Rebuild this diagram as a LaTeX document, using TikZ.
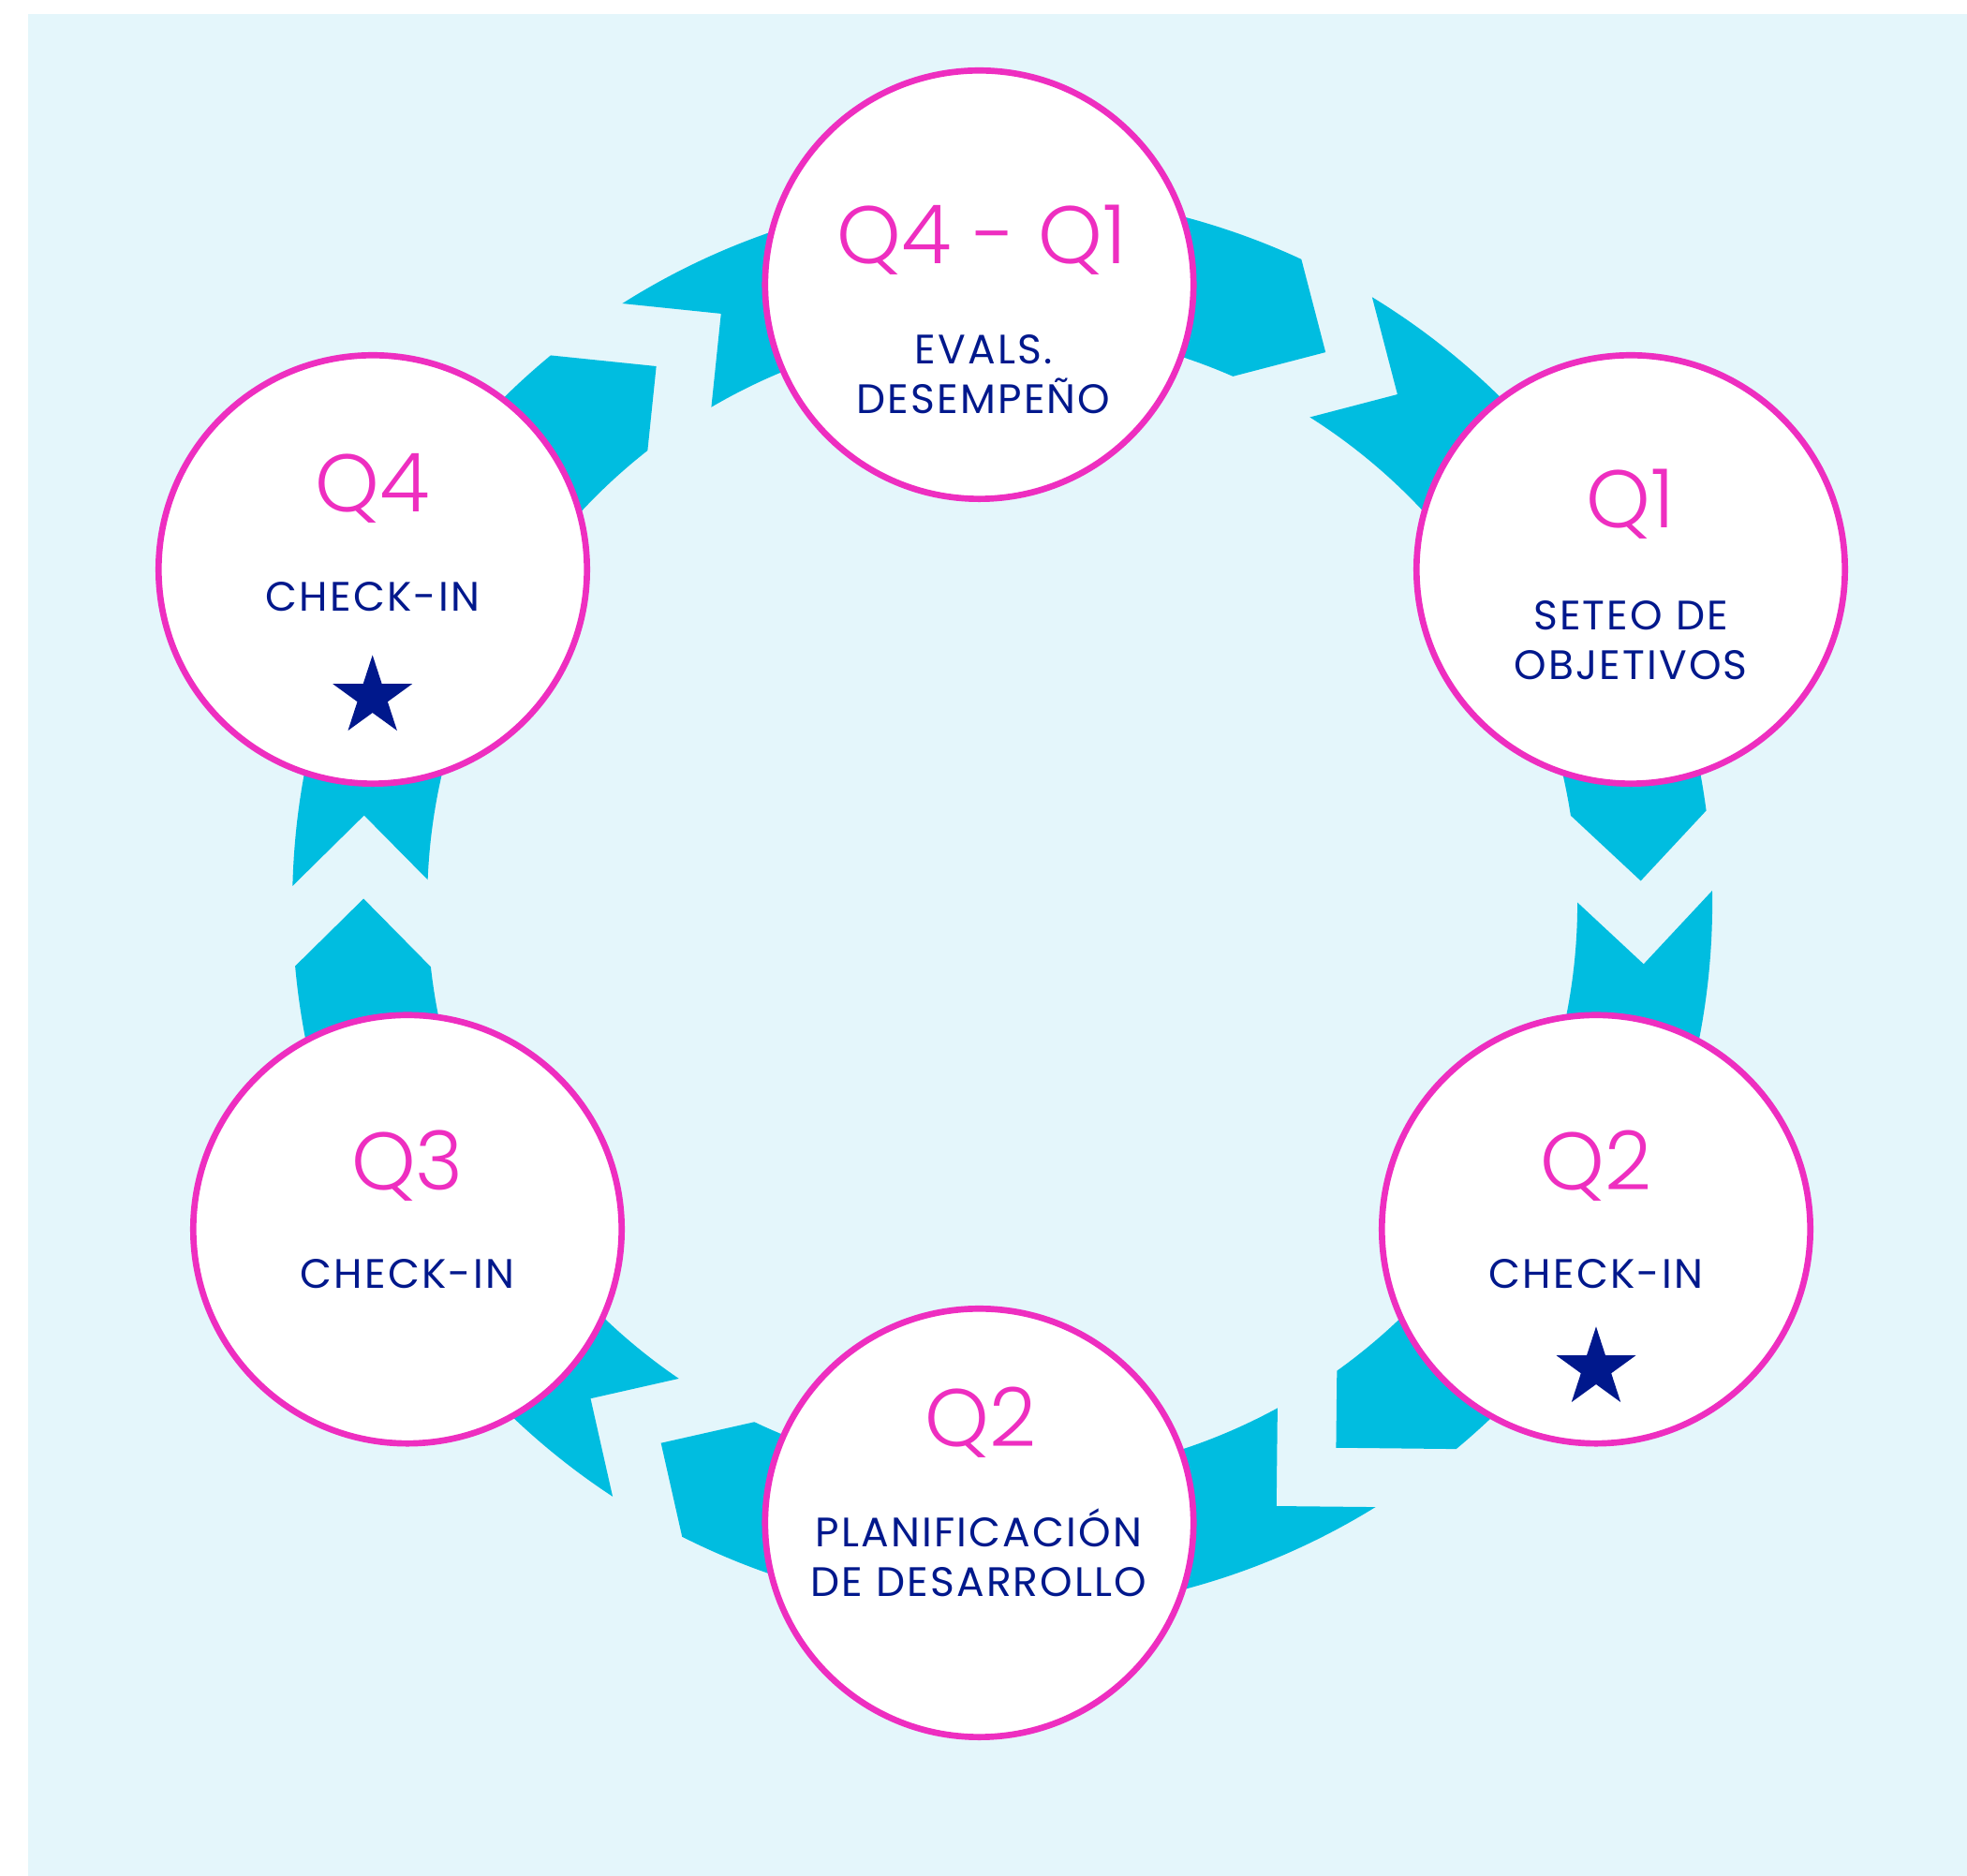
\documentclass[tikz,border=0pt]{standalone}
\usepackage{fontspec}
\setmainfont{Poppins}[LetterSpace=5]
\newfontfamily\qlight{Poppins Light}
\usetikzlibrary{calc,shapes.geometric}

\definecolor{bgblue}{RGB}{228,246,251}
\definecolor{qcyan}{RGB}{0,189,224}
\definecolor{qpink}{RGB}{238,46,192}
\definecolor{qnavy}{RGB}{0,24,140}

\newcommand{\ringout}{7.58}
\newcommand{\ringin}{6.14}

\tikzset{
	phase/.style={circle, draw=qpink, line width=1.9pt, fill=white, minimum size=4.574cm, inner sep=0pt},
	qlabel/.style={anchor=base, text=qpink, font=\qlight\fontsize{24.8pt}{28pt}\selectfont},
	tlabel/.style={anchor=base, text=qnavy, font=\fontsize{12.5pt}{15pt}\selectfont},
	ringarrow/.style={fill=qcyan},
	badge/.style={star, star points=5, star point ratio=2.618, minimum size=0.892cm, inner sep=0pt, fill=qnavy}
}

\begin{document}
\begin{tikzpicture}
	\useasboundingbox (0,0) rectangle (21,20.03);
	\fill[bgblue] (0.30,0) rectangle (21,19.88);
	\coordinate (C) at (10.701,10.387);
	% chevron segments of the ring, clockwise
	% tail gap angle / outer, inner, notch offsets / notch radius / head gap angle / outer, inner offsets
	\foreach \a/\ao/\ai/\an/\nr/\b/\bo/\bi in {
		122.8/-0.44/-2.40/-7.29/6.974/59.6/5.49/6.76,
		59.6/-0.99/-1.93/-7.43/6.878/2/5.49/6.76,
		2/-0.99/-1.93/-7.43/6.878/-58.5/8.24/4.08,
		-58.5/0.21/-2.91/-7.05/7.072/-122.3/5.49/6.76,
		-122.3/-0.99/-1.93/-7.43/6.878/-180.4/5.49/6.76,
		179.6/-0.99/-1.93/-7.43/6.878/122.8/6.70/5.29}
		\fill[ringarrow] ($(C)+({\a+\ao}:\ringout)$) arc[start angle=\a+\ao, end angle=\b+\bo, radius=\ringout]
			-- ($(C)+(\b:6.82)$) -- ($(C)+({\b+\bi}:\ringin)$)
			arc[start angle=\b+\bi, end angle=\a+\ai, radius=\ringin] -- ($(C)+({\a+\an}:\nr)$) -- cycle;
	% phases
	\node[phase] (top) at (10.455,16.99) {};
	\node[phase] (q1) at (17.41,13.95) {};
	\node[phase] (q2) at (17.04,6.905) {};
	\node[phase] (bot) at (10.455,3.77) {};
	\node[phase] (q3) at (4.35,6.905) {};
	\node[phase] (q4) at (3.98,13.95) {};
	% labels
	\node[qlabel] (top-q) at (10.48,17.215) {Q4 - Q1};
	\node[tlabel] (top-a) at (10.50,16.14) {EVALS.};
	\node[tlabel] (top-b) at (10.50,15.61) {DESEMPEÑO};
	\node[qlabel] (q1-q) at (17.41,14.395) {Q1};
	\node[tlabel] (q1-a) at (17.41,13.30) {SETEO DE};
	\node[tlabel] (q1-b) at (17.41,12.77) {OBJETIVOS};
	\node[qlabel] (q2-q) at (17.04,7.325) {Q2};
	\node[tlabel] (q2-a) at (17.04,6.273) {CHECK-IN};
	\node[badge] (q2-s) at (17.04,5.42) {};
	\node[qlabel] (bot-q) at (10.47,4.588) {Q2};
	\node[tlabel] (bot-a) at (10.45,3.513) {PLANIFICACIÓN};
	\node[tlabel] (bot-b) at (10.45,2.98) {DE DESARROLLO};
	\node[qlabel] (q3-q) at (4.35,7.325) {Q3};
	\node[tlabel] (q3-a) at (4.35,6.273) {CHECK-IN};
	\node[qlabel] (q4-q) at (3.98,14.565) {Q4};
	\node[tlabel] (q4-a) at (3.98,13.505) {CHECK-IN};
	\node[badge] (q4-s) at (3.977,12.59) {};
\end{tikzpicture}
\end{document}
